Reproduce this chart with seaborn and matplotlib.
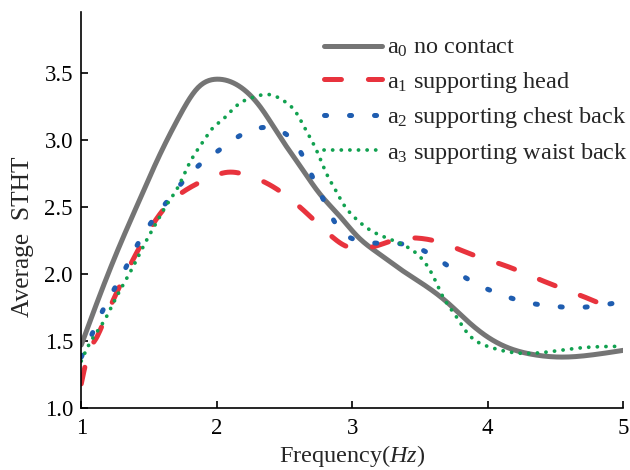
import numpy as np
import pandas as pd
import seaborn as sns
import matplotlib
matplotlib.use("Agg")
import matplotlib.pyplot as plt

sns.set_style("ticks")
plt.rcParams['font.family'] = ['Liberation Serif', 'DejaVu Serif']
plt.rcParams['mathtext.fontset'] = 'custom'
plt.rcParams['mathtext.rm'] = 'Liberation Serif'
plt.rcParams['mathtext.it'] = 'Liberation Serif:italic'
plt.rcParams['lines.scale_dashes'] = False

labels = [r"a$_0$ no contact", r"a$_1$ supporting head",
          r"a$_2$ supporting chest back", r"a$_3$ supporting waist back"]

x_a0 = [1.0, 1.125, 1.27, 1.42, 1.57, 1.72, 1.86, 2.0, 2.17, 2.32, 2.47, 2.62, 2.76, 2.91, 3.04, 3.2, 3.35, 3.5, 3.7, 3.85, 4.0, 4.15, 4.33, 4.56, 4.8, 5.0]
y_a0 = [1.47, 1.81, 2.18, 2.53, 2.87, 3.17, 3.39, 3.455, 3.40, 3.25, 3.02, 2.80, 2.60, 2.43, 2.28, 2.15, 2.04, 1.94, 1.79, 1.65, 1.53, 1.45, 1.40, 1.38, 1.40, 1.43]

x_a1 = [1.0, 1.06, 1.11, 1.16, 1.27, 1.42, 1.59, 1.81, 1.95, 2.08, 2.22, 2.45, 2.69, 2.85, 2.95, 3.05, 3.21, 3.33, 3.45, 3.60, 3.75, 3.90, 4.05, 4.19, 4.31, 4.48, 4.61, 4.76, 4.92]
y_a1 = [1.18, 1.43, 1.52, 1.63, 1.88, 2.18, 2.46, 2.65, 2.72, 2.76, 2.74, 2.63, 2.43, 2.28, 2.21, 2.19, 2.22, 2.26, 2.27, 2.25, 2.20, 2.14, 2.09, 2.04, 1.99, 1.92, 1.87, 1.81, 1.74]

x_a2 = [1.0, 1.07, 1.15, 1.24, 1.33, 1.42, 1.52, 1.64, 1.75, 1.89, 2.04, 2.12, 2.31, 2.47, 2.62, 2.70, 2.79, 2.87, 3.04, 3.24, 3.40, 3.59, 3.75, 3.91, 4.09, 4.28, 4.48, 4.66, 4.92]
y_a2 = [1.38, 1.53, 1.71, 1.88, 2.05, 2.23, 2.39, 2.55, 2.69, 2.83, 2.94, 3.00, 3.09, 3.07, 2.91, 2.74, 2.55, 2.39, 2.25, 2.23, 2.22, 2.14, 2.03, 1.93, 1.85, 1.79, 1.76, 1.75, 1.78]

x_a3 = [1.0, 1.05, 1.11, 1.18, 1.24, 1.32, 1.38, 1.47, 1.53, 1.62, 1.72, 1.80, 1.90, 1.97, 2.04, 2.15, 2.27, 2.39, 2.50, 2.59, 2.65, 2.71, 2.76, 2.81, 2.87, 2.93, 3.01, 3.13, 3.28, 3.41, 3.50, 3.60, 3.67, 3.75, 3.85, 4.0, 4.22, 4.46, 4.70, 5.0]
y_a3 = [1.35, 1.46, 1.56, 1.67, 1.79, 1.94, 2.05, 2.23, 2.34, 2.50, 2.66, 2.83, 2.99, 3.09, 3.15, 3.26, 3.32, 3.34, 3.29, 3.20, 3.09, 2.98, 2.87, 2.75, 2.64, 2.53, 2.43, 2.33, 2.26, 2.20, 2.13, 1.98, 1.83, 1.71, 1.56, 1.46, 1.41, 1.42, 1.45, 1.46]

xs = [x_a0, x_a1, x_a2, x_a3]
ys = [y_a0, y_a1, y_a2, y_a3]


def smooth(x, y, n=400):
    """Natural cubic spline through the read points (display smoothing)."""
    x = np.asarray(x, float); y = np.asarray(y, float)
    k = len(x); h = np.diff(x)
    A = np.zeros((k, k)); b = np.zeros(k)
    A[0, 0] = A[-1, -1] = 1
    for i in range(1, k - 1):
        A[i, i-1] = h[i-1]; A[i, i] = 2*(h[i-1] + h[i]); A[i, i+1] = h[i]
        b[i] = 6*((y[i+1]-y[i])/h[i] - (y[i]-y[i-1])/h[i-1])
    M = np.linalg.solve(A, b)
    xf = np.linspace(x[0], x[-1], n)
    idx = np.clip(np.searchsorted(x, xf) - 1, 0, k - 2)
    x0, x1 = x[idx], x[idx+1]; hh = h[idx]
    yf = (M[idx]*(x1-xf)**3/(6*hh) + M[idx+1]*(xf-x0)**3/(6*hh)
          + (y[idx]/hh - M[idx]*hh/6)*(x1-xf) + (y[idx+1]/hh - M[idx+1]*hh/6)*(xf-x0))
    return xf, yf


frames = []
for lab, x, y in zip(labels, xs, ys):
    xf, yf = smooth(x, y)
    frames.append(pd.DataFrame({"Frequency": xf, "STHT": yf, "series": lab}))
df = pd.concat(frames, ignore_index=True)

colors = ["#757575", "#e8333d", "#1f5db0", "#11a150"]
styles = [dict(lw=3.6, ls='-'),
          dict(lw=3.6, ls=(0, (12.2, 19.4))),
          dict(lw=3.6, ls=(0, (1.5, 16.5))),
          dict(lw=2.7, ls=(0, (0.1, 6.1)))]

fig, ax = plt.subplots(figsize=(6.3, 4.7), dpi=100)
fig.subplots_adjust(left=0.129, right=0.989, bottom=0.132, top=0.974)

for lab, c, st in zip(labels, colors, styles):
    sub = df[df["series"] == lab]
    sns.lineplot(data=sub, x="Frequency", y="STHT", ax=ax, color=c,
                 lw=st['lw'], linestyle=st['ls'], label=lab,
                 solid_capstyle='round', dash_capstyle='round')

ax.set_xlim(1, 5)
ax.set_ylim(1.0, 3.955)
ax.set_xticks([1, 2, 3, 4, 5])
ax.set_yticks([1.0, 1.5, 2.0, 2.5, 3.0, 3.5])
ax.set_yticklabels(["1.0", "1.5", "2.0", "2.5", "3.0", "3.5"])
ax.tick_params(direction='in', length=5, width=1.2, labelsize=16.5, colors='black', pad=7.5)
ax.tick_params(axis='y', pad=6)
for s in ['left', 'bottom']:
    ax.spines[s].set_linewidth(1.2)
    ax.spines[s].set_color('black')
sns.despine(ax=ax)
ax.set_xlabel(r"Frequency($\mathit{Hz}$)", fontsize=17.5, labelpad=2.5)
ax.set_ylabel("Average  STHT", fontsize=18.3)
ax.yaxis.set_label_coords(-0.087, 0.432)

leg = ax.legend(loc='upper right', frameon=False, fontsize=17.5, handlelength=2.4,
                handletextpad=0.2, labelspacing=0.43, borderaxespad=0, borderpad=0,
                bbox_to_anchor=(0.997, 0.921), bbox_transform=fig.transFigure)
fig.savefig("out.png", dpi=100)
